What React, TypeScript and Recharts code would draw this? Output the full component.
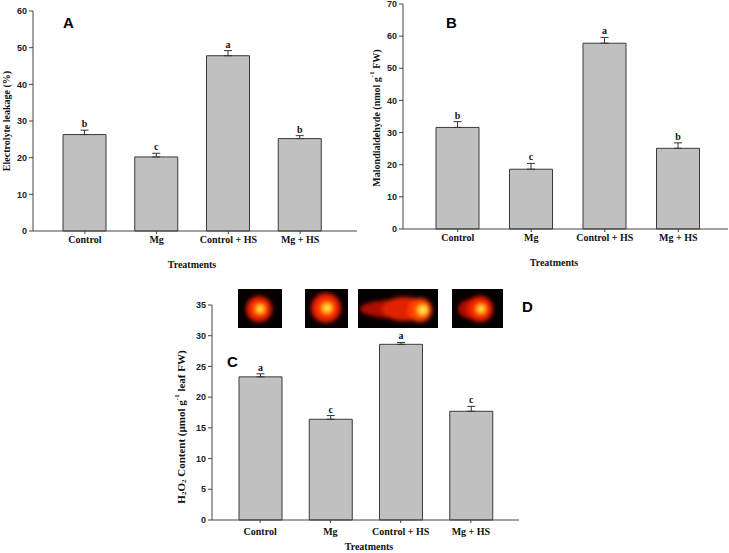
import React from 'react';
import { BarChart, Bar, XAxis, YAxis, ErrorBar, LabelList } from 'recharts';

const categories = ['Control', 'Mg', 'Control + HS', 'Mg + HS'];

// A: electrolyte leakage (%)
const leakage = [26.3, 20.2, 47.8, 25.2];
const leakageErr = [1.2, 1.0, 1.4, 0.8];
const leakageLetters = ['b', 'c', 'a', 'b'];
const leakageTicks = [0, 10, 20, 30, 40, 50, 60];

// B: malondialdehyde (nmol g-1 FW)
const mda = [31.6, 18.6, 57.8, 25.1];
const mdaErr = [1.8, 1.8, 1.8, 1.7];
const mdaLetters = ['b', 'c', 'a', 'b'];
const mdaTicks = [0, 10, 20, 30, 40, 50, 60, 70];

// C: H2O2 content (umol g-1 leaf FW)
const h2o2 = [23.3, 16.4, 28.6, 17.7];
const h2o2Err = [0.5, 0.6, 0.3, 0.8];
const h2o2Letters = ['a', 'c', 'a', 'c'];
const h2o2Ticks = [0, 5, 10, 15, 20, 25, 30, 35];

type Row = { name: string; value: number; err: number; letter: string };

function buildRows(values: number[], errs: number[], letters: string[]): Row[] {
  return categories.map((name, i) => ({ name, value: values[i], err: errs[i], letter: letters[i] }));
}

const serif = '"Liberation Serif", "Times New Roman", serif';
const sans = '"Liberation Sans", Arial, sans-serif';
const axisColor = '#444';

// letter sits just above the error bar cap
const letterLabel = (rows: Row[]) => (props: any) => {
  const { x, y, width, height, index } = props;
  const row = rows[index];
  if (!row) return null;
  const pxPerUnit = Number(height) / row.value;
  const top = Number(y) - row.err * pxPerUnit;
  return (
    <text
      x={Number(x) + Number(width) / 2}
      y={top - 3}
      textAnchor="middle"
      fontFamily={serif}
      fontWeight="bold"
      fontSize={10}
      fill="#111"
    >
      {row.letter}
    </text>
  );
};

interface PanelProps {
  rows: Row[];
  ticks: number[];
  left: number;
  top: number;
  width: number;
  height: number;
  margin: { top: number; right: number; left: number; bottom: number };
  yWidth: number;
  xHeight: number;
  pad: { left: number; right: number };
  tickMargin?: number;
}

function Panel({ rows, ticks, left, top, width, height, margin, yWidth, xHeight, pad, tickMargin = 2 }: PanelProps) {
  return (
    <div style={{ position: 'absolute', left, top, width, height }}>
      <BarChart width={width} height={height} data={rows} margin={margin}>
        <XAxis
          dataKey="name"
          height={xHeight}
          interval={0}
          padding={pad}
          stroke={axisColor}
          tickSize={3}
          tickMargin={tickMargin}
          tick={{ fontFamily: serif, fontWeight: 'bold', fontSize: 10, fill: '#111' }}
        />
        <YAxis
          width={yWidth}
          domain={[0, ticks[ticks.length - 1]]}
          ticks={ticks}
          interval={0}
          stroke={axisColor}
          tickSize={4}
          tick={{ fontFamily: sans, fontWeight: 'bold', fontSize: 9, fill: '#222' }}
        />
        <Bar dataKey="value" barSize={43} fill="#c0c0c0" stroke="#3a3a3a" strokeWidth={1} isAnimationActive={false}>
          <ErrorBar dataKey={(d: Row) => [0, d.err]} width={4} stroke="#333" strokeWidth={1} direction="y" />
          <LabelList dataKey="letter" content={letterLabel(rows)} />
        </Bar>
      </BarChart>
    </div>
  );
}

function Blob({ x, y, w, h, cx, cy, r, id }: { x: number; y: number; w: number; h: number; cx: number; cy: number; r: number; id: string }) {
  return (
    <g clipPath={`url(#${id})`}>
      <clipPath id={id}>
        <rect x={x} y={y} width={w} height={h} />
      </clipPath>
      <rect x={x} y={y} width={w} height={h} fill="#050000" />
      <g filter="url(#soft)">
        <circle cx={cx} cy={cy} r={r} fill="#e01a06" />
        <circle cx={cx} cy={cy} r={r * 0.7} fill="#ff3000" />
        <circle cx={cx + 1} cy={cy} r={r * 0.35} fill="#ffc000" />
        <circle cx={cx + 1} cy={cy} r={r * 0.15} fill="#ffff70" />
      </g>
    </g>
  );
}

function Overlay() {
  const title = { fontFamily: serif, fontWeight: 'bold' as const, fill: '#111' };
  const panel = { fontFamily: sans, fontWeight: 'bold' as const, fontSize: 15, fill: '#000' };
  return (
    <svg width={729} height={553} style={{ position: 'absolute', left: 0, top: 0, pointerEvents: 'none' }}>
      <defs>
        <filter id="soft" x="-50%" y="-50%" width="200%" height="200%">
          <feGaussianBlur stdDeviation={2} />
        </filter>
      </defs>

      <text x={63} y={28} {...panel}>A</text>
      <text x={446} y={28} {...panel}>B</text>
      <text x={227} y={367} {...panel}>C</text>
      <text x={522} y={312} {...panel}>D</text>

      <text x={6} y={121} transform="rotate(-90 6 121)" textAnchor="middle" dominantBaseline="central" fontSize={10} {...title}>
        Electrolyte leakage (%)
      </text>
      <text x={376} y={118} transform="rotate(-90 376 118)" textAnchor="middle" dominantBaseline="central" fontSize={10} {...title}>
        Malondialdehyde (nmol g<tspan dy={-4} fontSize={7}>-1</tspan><tspan dy={4}> FW)</tspan>
      </text>
      <text x={181} y={427} transform="rotate(-90 181 427)" textAnchor="middle" dominantBaseline="central" fontSize={11} {...title}>
        H<tspan dy={3} fontSize={7}>2</tspan><tspan dy={-3}>O</tspan><tspan dy={3} fontSize={7}>2</tspan>
        <tspan dy={-3}> Content (µmol g</tspan><tspan dy={-4} fontSize={7}>-1</tspan><tspan dy={4}> leaf FW)</tspan>
      </text>

      <text x={192} y={268} textAnchor="middle" fontSize={10} {...title}>Treatments</text>
      <text x={554} y={266} textAnchor="middle" fontSize={10} {...title}>Treatments</text>
      <text x={369} y={550} textAnchor="middle" fontSize={10} {...title}>Treatments</text>

      <Blob id="d1" x={238} y={289} w={44} h={39} cx={259} cy={309} r={13} />
      <Blob id="d2" x={305} y={289} w={43} h={39} cx={326} cy={308} r={15} />
      <g clipPath="url(#d3)">
        <clipPath id="d3">
          <rect x={358} y={289} width={80} height={39} />
        </clipPath>
        <rect x={358} y={289} width={80} height={39} fill="#050000" />
        <g filter="url(#soft)">
          <ellipse cx={392} cy={309} rx={32} ry={9} fill="#b01000" />
          <ellipse cx={404} cy={309} rx={22} ry={12} fill="#e02005" />
          <circle cx={420} cy={310} r={12} fill="#ff4000" />
          <circle cx={422} cy={310} r={6} fill="#ffa800" />
          <circle cx={423} cy={310} r={3} fill="#ffff70" />
        </g>
      </g>
      <g clipPath="url(#d4)">
        <clipPath id="d4">
          <rect x={452} y={289} width={51} height={39} />
        </clipPath>
        <rect x={452} y={289} width={51} height={39} fill="#050000" />
        <g filter="url(#soft)">
          <ellipse cx={472} cy={309} rx={14} ry={10} fill="#b01000" />
          <circle cx={480} cy={309} r={13} fill="#e01a06" />
          <circle cx={480} cy={309} r={9} fill="#ff3000" />
          <circle cx={481} cy={309} r={4.5} fill="#ffc000" />
          <circle cx={481} cy={309} r={2} fill="#ffff70" />
        </g>
      </g>
    </svg>
  );
}

export default function App() {
  const rowsA = buildRows(leakage, leakageErr, leakageLetters);
  const rowsB = buildRows(mda, mdaErr, mdaLetters);
  const rowsC = buildRows(h2o2, h2o2Err, h2o2Letters);

  return (
    <div style={{ position: 'absolute', left: 0, top: 0, width: 729, height: 553, background: '#fff', overflow: 'hidden' }}>
      <Panel
        rows={rowsA}
        ticks={leakageTicks}
        left={0}
        top={0}
        width={360}
        height={280}
        margin={{ top: 11, right: 3, left: 0, bottom: 0 }}
        yWidth={33}
        xHeight={49}
        pad={{ left: 16, right: 21 }}
      />
      <Panel
        rows={rowsB}
        ticks={mdaTicks}
        left={362}
        top={0}
        width={367}
        height={280}
        margin={{ top: 4, right: 1, left: 0, bottom: 0 }}
        yWidth={41}
        xHeight={51}
        pad={{ left: 18, right: 13 }}
      />
      <Panel
        rows={rowsC}
        ticks={h2o2Ticks}
        left={170}
        top={290}
        width={360}
        height={263}
        margin={{ top: 15, right: 11, left: 0, bottom: 0 }}
        yWidth={42}
        xHeight={33}
        pad={{ left: 13, right: 13 }}
        tickMargin={5}
      />
      <Overlay />
    </div>
  );
}
